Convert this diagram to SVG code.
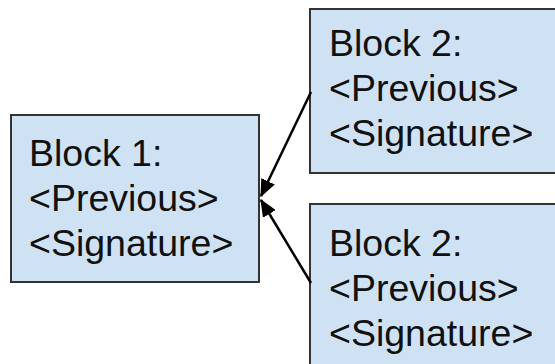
<svg xmlns="http://www.w3.org/2000/svg" width="555" height="364" viewBox="0 0 555 364">
<style>
.box{fill:#cfe2f3;stroke:#333;stroke-width:2}
.t{font-family:"Liberation Sans",Arial,sans-serif;font-size:37.5px;fill:#111}
.c{stroke:#000;stroke-width:2.5;fill:none}
</style>
<defs>
<marker id="ah" markerWidth="7" markerHeight="6" refX="6.5" refY="3" orient="auto" markerUnits="strokeWidth">
<path d="M0,0 L7,3 L0,6 Z" fill="#000"/>
</marker>
</defs>
<rect width="555" height="364" fill="#fff"/>
<g id="block1">
<rect class="box" x="11" y="115" width="248" height="167"/>
<text class="t" x="29" y="166">Block 1:</text>
<text class="t" x="29" y="211">&lt;Previous&gt;</text>
<text class="t" x="29" y="256">&lt;Signature&gt;</text>
</g>
<g id="block2a">
<rect class="box" x="310" y="9" width="260" height="164"/>
<text class="t" x="329" y="56">Block 2:</text>
<text class="t" x="329" y="101">&lt;Previous&gt;</text>
<text class="t" x="329" y="146">&lt;Signature&gt;</text>
</g>
<g id="block2b">
<rect class="box" x="310" y="204" width="260" height="180"/>
<text class="t" x="329" y="256">Block 2:</text>
<text class="t" x="329" y="301">&lt;Previous&gt;</text>
<text class="t" x="329" y="346">&lt;Signature&gt;</text>
</g>
<g id="connectors">
<line class="c" x1="311" y1="92" x2="261" y2="196" marker-end="url(#ah)"/>
<line class="c" x1="311" y1="283" x2="261" y2="200" marker-end="url(#ah)"/>
</g>
</svg>
